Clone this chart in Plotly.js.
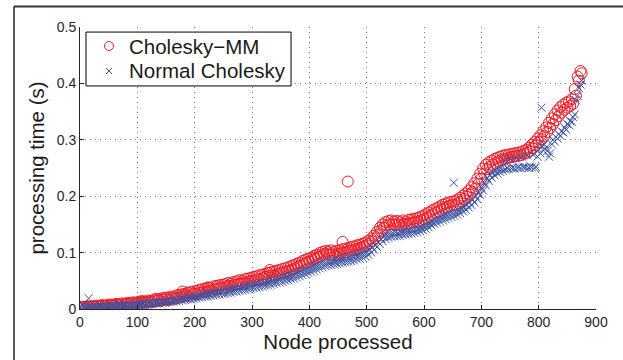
<!DOCTYPE html>
<html><head><meta charset="utf-8">
<script src="https://cdn.plot.ly/plotly-3.0.1.min.js"></script>
<style>html,body{margin:0;padding:0;background:#fff;}#chart{width:623px;height:360px;}</style>
</head><body><div id="chart"></div>
<script>
const nodes = [0,5,10,15,20,25,30,35,40,45,50,55,60,65,70,75,80,85,90,95,100,105,110,115,120,125,130,135,140,145,150,155,160,165,170,175,180,185,190,195,200,205,210,215,220,225,230,235,240,245,250,255,260,265,270,275,280,285,290,295,300,305,310,315,320,325,330,335,340,345,350,355,360,365,370,375,380,385,390,395,400,405,410,415,420,425,430,435,440,445,450,455,460,465,470,475,480,485,490,495,500,505,510,515,520,525,530,535,540,545,550,555,560,565,570,575,580,585,590,595,600,605,610,615,620,625,630,635,640,645,650,655,660,665,670,675,680,685,690,695,700,705,710,715,720,725,730,735,740,745,750,755,760,765,770,775,780,785,790,795,800,805,810,815,820,825,830,835,840,845,850,855,860,865,870,875];
const nodesB = [3,8,13,18,23,28,33,38,43,48,53,58,63,68,73,78,83,88,93,98,103,108,113,118,123,128,133,138,143,148,153,158,163,168,173,178,183,188,193,198,203,208,213,218,223,228,233,238,243,248,253,258,263,268,273,278,283,288,293,298,303,308,313,318,323,328,333,338,343,348,353,358,363,368,373,378,383,388,393,398,403,408,413,418,423,428,433,438,443,448,453,458,463,468,473,478,483,488,493,498,503,508,513,518,523,528,533,538,543,548,553,558,563,568,573,578,583,588,593,598,603,608,613,618,623,628,633,638,643,648,653,658,663,668,673,678,683,688,693,698,703,708,713,718,723,728,733,738,743,748,753,758,763,768,773,778,783,788,793,798,803,808,813,818,823,828,833,838,843,848,853,858,863,868,873];
const mmTime = [.002,.003,.002,.004,.003,.004,.005,.004,.006,.005,
.006,.007,.006,.008,.007,.008,.009,.008,.010,.009,
.011,.010,.012,.011,.013,.012,.014,.015,.014,.016,
.017,.016,.019,.018,.020,.021,.022,.024,.023,.026,
.027,.026,.029,.030,.031,.033,.032,.035,.036,.037,
.038,.039,.041,.040,.043,.044,.045,.047,.046,.049,
.050,.051,.053,.052,.055,.057,.058,.060,.059,.062,
.064,.065,.067,.068,.070,.072,.075,.077,.080,.082,
.084,.087,.089,.092,.094,.097,.098,.096,.097,.095,
.098,.099,.100,.101,.103,.104,.106,.107,.109,.111,
.113,.116,.120,.125,.131,.138,.144,.148,.150,.151,
.149,.150,.148,.151,.150,.152,.153,.155,.154,.157,
.159,.162,.165,.168,.171,.173,.176,.179,.181,.183,
.185,.184,.188,.191,.195,.199,.203,.208,.214,.222,
.231,.240,.248,.252,.256,.259,.262,.264,.266,.267,
.269,.270,.271,.272,.273,.275,.277,.280,.285,.290,
.296,.301,.307,.314,.321,.328,.335,.342,.348,.353,
.357,.360,.364,.378,.405,.418];
const mmTimeB = [.004,.004,.005,.004,.005,.006,.005,.007,.006,.007,
.008,.007,.009,.008,.010,.009,.011,.010,.012,.011,
.013,.014,.013,.015,.014,.016,.018,.017,.019,.020,
.020,.022,.021,.024,.025,.026,.027,.029,.030,.031,
.032,.034,.035,.036,.038,.037,.040,.041,.042,.043,
.044,.046,.045,.048,.049,.051,.050,.053,.054,.055,
.057,.058,.060,.061,.062,.064,.065,.066,.068,.069,
.071,.072,.074,.076,.078,.080,.082,.085,.087,.089,
.091,.094,.096,.099,.101,.103,.102,.104,.101,.103,
.104,.106,.107,.108,.110,.111,.113,.114,.116,.118,
.121,.125,.130,.137,.144,.150,.154,.156,.157,.155,
.156,.154,.157,.155,.158,.159,.160,.161,.163,.165,
.168,.171,.174,.177,.179,.182,.185,.187,.189,.190,
.191,.194,.197,.201,.205,.210,.216,.223,.231,.240,
.249,.256,.260,.263,.266,.268,.270,.272,.273,.274,
.275,.276,.277,.278,.280,.282,.286,.291,.296,.302,
.308,.315,.322,.330,.338,.345,.352,.358,.362,.366,
.368,.372,.390,.412,.422];
const ncTime = [.002,.008,.003,.004,.003,.004,.004,.005,.004,.005,
.005,.006,.005,.006,.007,.006,.007,.008,.007,.008,
.009,.008,.010,.009,.011,.010,.012,.012,.013,.013,
.014,.015,.015,.016,.017,.018,.019,.020,.020,.022,
.023,.023,.025,.026,.027,.028,.028,.030,.031,.031,
.033,.034,.034,.036,.037,.038,.039,.040,.041,.042,
.043,.044,.045,.046,.047,.049,.050,.051,.052,.054,
.055,.057,.058,.060,.061,.063,.065,.067,.069,.071,
.073,.075,.077,.079,.081,.083,.084,.085,.086,.087,
.088,.089,.090,.091,.092,.093,.095,.096,.098,.100,
.102,.105,.109,.114,.119,.124,.129,.132,.134,.135,
.136,.135,.137,.138,.139,.140,.141,.142,.143,.145,
.147,.149,.152,.155,.158,.160,.163,.165,.167,.169,
.171,.173,.175,.178,.181,.185,.189,.194,.200,.207,
.215,.224,.232,.238,.242,.245,.248,.250,.262,.250,
.266,.251,.268,.252,.270,.252,.272,.253,.274,.252,
.283,.288,.292,.280,.276,.300,.305,.310,.315,.322,
.328,.333,.340,.370,.392,.405];
const ncTimeB = [.001,.002,.002,.003,.002,.003,.003,.004,.003,.004,
.004,.005,.004,.005,.005,.006,.006,.005,.007,.006,
.007,.008,.007,.008,.009,.009,.010,.010,.011,.011,
.012,.012,.013,.014,.014,.015,.016,.017,.017,.018,
.019,.020,.021,.022,.022,.023,.024,.025,.026,.027,
.027,.028,.029,.030,.031,.032,.033,.034,.035,.036,
.037,.038,.039,.040,.041,.042,.043,.044,.046,.047,
.048,.050,.051,.053,.054,.056,.058,.060,.062,.064,
.066,.068,.070,.072,.074,.076,.077,.078,.079,.080,
.081,.082,.083,.084,.085,.086,.088,.089,.091,.093,
.096,.100,.105,.110,.115,.120,.124,.126,.128,.129,
.129,.130,.131,.132,.133,.134,.135,.136,.138,.140,
.142,.145,.148,.151,.153,.155,.157,.159,.161,.163,
.165,.167,.170,.173,.176,.180,.184,.189,.195,.202,
.210,.219,.227,.233,.237,.240,.243,.245,.247,.248,
.249,.249,.250,.250,.251,.251,.250,.251,.250,.270,
.276,.281,.286,.270,.292,.297,.302,.307,.313,.318,
.326,.332,.345,.378,.398];
const mmOutlierNodes = [179,224,331,458,467];
const mmOutlierTime = [0.031,0.038,0.069,0.119,0.226];
const ncOutlierNodes = [15,652,805];
const ncOutlierTime = [0.019,0.224,0.357];
const seriesNames = ['Cholesky\u2212MM','Normal Cholesky'];
const xTickVals = [0,100,200,300,400,500,600,700,800,900];
const xTickText = ['0','100','200','300','400','500','600','700','800','900'];
const yTickVals = [0,0.1,0.2,0.3,0.4,0.5];
const yTickText = ['0','0.1','0.2','0.3','0.4','0.5'];

const RED = '#ee1c25', BLUE = '#3a53a4';
const traces = [
  {type:'scatter', mode:'markers', name:seriesNames[0], showlegend:false,
   x:nodes.concat(nodesB, mmOutlierNodes), y:mmTime.concat(mmTimeB, mmOutlierTime),
   marker:{symbol:'circle-open', size:11, color:RED, line:{width:1, color:RED}}},
  {type:'scatter', mode:'markers', name:seriesNames[1], showlegend:false,
   x:nodes.concat(nodesB, ncOutlierNodes), y:ncTime.concat(ncTimeB, ncOutlierTime),
   marker:{symbol:'x-thin-open', size:8, color:BLUE, line:{width:1, color:BLUE}}}
];
const axisCommon = {
  ticks:'inside', ticklen:4, tickcolor:'#262626', tickwidth:1,
  showline:true, linecolor:'#262626', linewidth:1, mirror:false,
  showgrid:true, gridcolor:'#777', griddash:'1px,4px', gridwidth:1,
  zeroline:false, tickfont:{size:14, color:'#262626'}
};
// legend box (paper coordinates of the plot area)
const legX0 = 0.0116, legX1 = 0.409, legY0 = 0.791, legY1 = 0.982;
const legRowY = [0.9326, 0.844];
const legMarkX = 0.0562, legTextX = 0.0911;
const layout = {
  width:623, height:360,
  margin:{l:80, r:27, t:27, b:51, pad:0},
  paper_bgcolor:'#fff', plot_bgcolor:'#fff',
  font:{family:'Liberation Sans, Arial, sans-serif', color:'#262626', size:14},
  showlegend:false,
  xaxis:Object.assign({}, axisCommon, {range:[0,900], tickmode:'array', tickvals:xTickVals, ticktext:xTickText,
          title:{text:'Node processed', font:{size:20.5, color:'#1a1a1a'}, standoff:4}}),
  yaxis:Object.assign({}, axisCommon, {range:[0,0.5], tickmode:'array', tickvals:yTickVals, ticktext:yTickText,
          title:{text:'processing time (s)', font:{size:20.5, color:'#1a1a1a'}, standoff:6}}),
  shapes:[
    {type:'line', xref:'paper', yref:'paper', x0:-0.1279, x1:1.06, y0:1.0727, y1:1.0727, line:{color:'#333', width:2}},
    {type:'line', xref:'paper', yref:'paper', x0:-0.1279, x1:-0.1279, y0:-0.2, y1:1.0727, line:{color:'#222', width:1.5}},
    {type:'rect', xref:'paper', yref:'paper', x0:legX0, x1:legX1, y0:legY0, y1:legY1, fillcolor:'#fff', line:{color:'#000', width:1}, layer:'above'},
    {type:'circle', xref:'paper', yref:'paper', xsizemode:'pixel', ysizemode:'pixel', xanchor:legMarkX, yanchor:legRowY[0],
     x0:-4.5, x1:4.5, y0:-4.5, y1:4.5, line:{color:RED, width:1}, layer:'above'},
    {type:'path', xref:'paper', yref:'paper', xsizemode:'pixel', ysizemode:'pixel', xanchor:legMarkX, yanchor:legRowY[1],
     path:'M-3,-3L3,3M-3,3L3,-3', line:{color:BLUE, width:1}, layer:'above'}
  ],
  annotations:[
    {xref:'paper', yref:'paper', x:legTextX, y:legRowY[0], xanchor:'left', yanchor:'middle', showarrow:false,
     text:seriesNames[0], font:{size:20.5, color:'#1a1a1a'}},
    {xref:'paper', yref:'paper', x:legTextX, y:legRowY[1], xanchor:'left', yanchor:'middle', showarrow:false,
     text:seriesNames[1], font:{size:20.5, color:'#1a1a1a'}}
  ]
};
Plotly.newPlot('chart', traces, layout, {displayModeBar:false, staticPlot:true});
</script>
</body></html>
